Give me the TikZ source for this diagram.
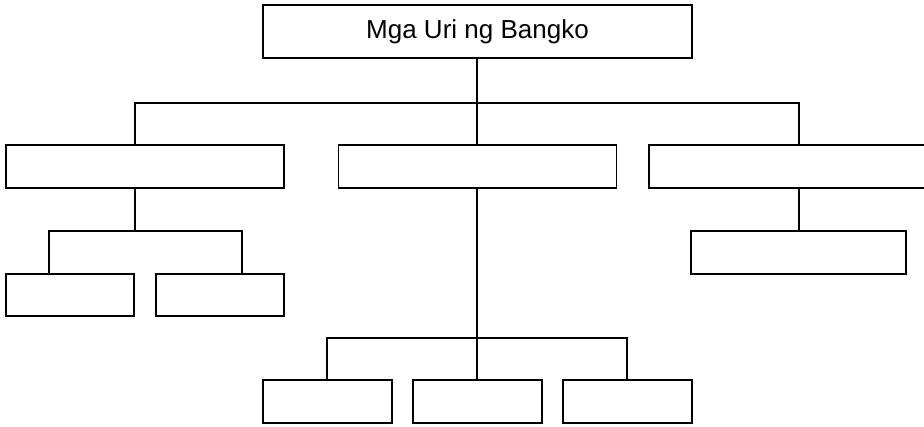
\documentclass[tikz,border=0pt]{standalone}
\usepackage{fontspec}
\setmainfont{Liberation Sans}
\usepackage{tikz}
\usetikzlibrary{positioning,calc}
\tikzset{
  bx/.style={draw,line width=1.5pt,rectangle,inner sep=0pt,align=center},
  bxw/.style={bx,minimum width=278pt,minimum height=43pt},
  bxs/.style={bx,minimum width=129pt,minimum height=43pt},
  lnk/.style={line width=1.5pt},
}
\begin{document}
\begin{tikzpicture}[x=1pt,y=-1pt,font=\fontsize{26}{30}\selectfont]
  \useasboundingbox (0,0) rectangle (924,426);
  % --- root ---
  \node[bx,minimum width=429pt,minimum height=53pt] (root) at (477.5,31.5) {Mga Uri ng Bangko};
  % --- second level ---
  \node[bxw] (uriA) at (145,166.5) {};
  \node[bxw] (uriB) at (477.5,166.5) {};
  \node[bxw] (uriC) at (788,166.5) {};
  % --- third level ---
  \node[bxs,minimum width=128pt,minimum height=42pt] (subA1) at (70,295) {};
  \node[bxs,minimum width=128pt,minimum height=42pt] (subA2) at (220,295) {};
  \node[bx,minimum width=215pt,minimum height=43pt] (subC1) at (798.5,252.5) {};
  \node[bxs] (subB1) at (327.5,401.5) {};
  \node[bxs] (subB2) at (477.5,401.5) {};
  \node[bxs] (subB3) at (627.5,401.5) {};
  % --- joints ---
  \coordinate (busR) at (477,103);
  \coordinate (jA) at (135,103);
  \coordinate (jC) at (799,103);
  \coordinate (busA) at (135,231);
  \coordinate (jA1) at (49,231);
  \coordinate (jA2) at (242,231);
  \coordinate (busB) at (477,338);
  \coordinate (jB1) at (327,338);
  \coordinate (jB3) at (627,338);
  % --- root -> second level ---
  \draw[lnk] (root.south -| busR) -- (busR |- uriB.north);
  \draw[lnk] (jA |- uriA.north) -- (jA) -- (jC) -- (jC |- uriC.north);
  % --- left branch ---
  \draw[lnk] (busA |- uriA.south) -- (busA);
  \draw[lnk] (jA1 |- subA1.north) -- (jA1) -- (jA2) -- (jA2 |- subA2.north);
  % --- right branch ---
  \draw[lnk] (jC |- uriC.south) -- (jC |- subC1.north);
  % --- middle branch ---
  \draw[lnk] (busB |- uriB.south) -- (busB |- subB2.north);
  \draw[lnk] (jB1 |- subB1.north) -- (jB1) -- (jB3) -- (jB3 |- subB3.north);
\end{tikzpicture}
\end{document}
